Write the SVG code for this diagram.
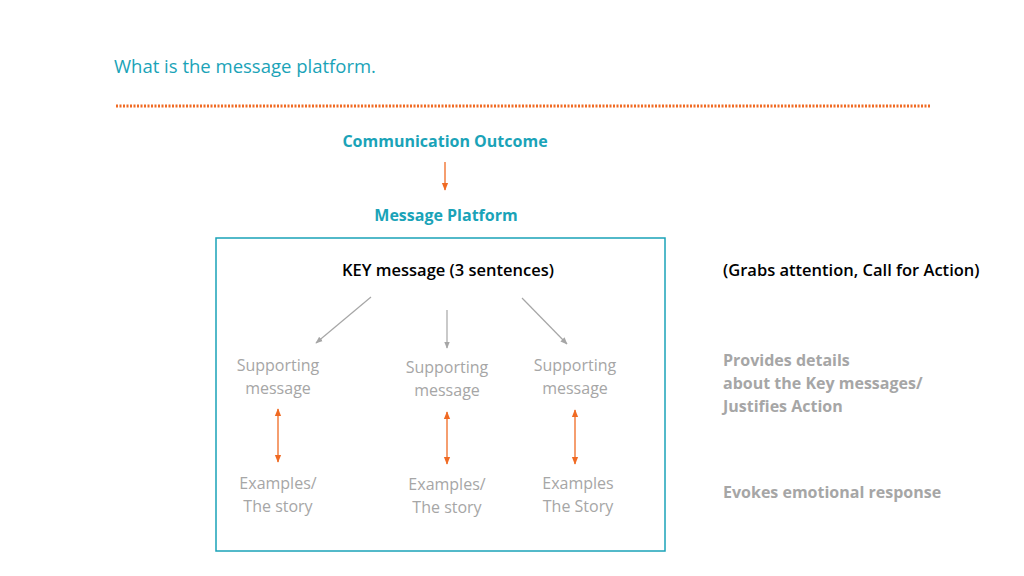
<svg xmlns="http://www.w3.org/2000/svg" width="1024" height="576" viewBox="0 0 1024 576">
<style>
text{font-family:"Open Sans","Liberation Sans",sans-serif}
.teal{fill:#1aa3b8;font-weight:bold;font-size:16px}
.gray{fill:#a6a6a6;font-size:16px}
.grayb{fill:#a6a6a6;font-size:16px;font-weight:bold}
.blk{fill:#000;font-size:16.5px;font-weight:600}
.or{stroke:#f06a23;stroke-width:1.3;fill:none}
.gr{stroke:#a6a6a6;stroke-width:1.2;fill:none}
</style>
<defs>
<marker id="ao" viewBox="0 0 10 10" refX="9" refY="5" markerWidth="6" markerHeight="6" orient="auto-start-reverse"><path d="M0,1 L10,5 L0,9 z" fill="#f06a23"/></marker>
<marker id="ag" viewBox="0 0 10 10" refX="9" refY="5" markerWidth="6" markerHeight="6" orient="auto"><path d="M0,1 L10,5 L0,9 z" fill="#a6a6a6"/></marker>
</defs>
<rect width="1024" height="576" fill="#fff"/>
<text x="114" y="73" fill="#1aa3b8" font-size="18.5">What is the message platform.</text>
<line x1="116" y1="106" x2="930" y2="106" stroke="#f06a23" stroke-width="3" stroke-dasharray="2 1.5"/>
<g id="outcome"><text class="teal" x="445" y="147" text-anchor="middle">Communication Outcome</text></g>
<g id="platform"><text class="teal" x="446" y="221" text-anchor="middle">Message Platform</text></g>
<g id="box"><rect x="216" y="238" width="449" height="313" fill="none" stroke="#1aa3b8" stroke-width="1.5"/></g>
<g id="key"><text class="blk" x="448" y="276" text-anchor="middle">KEY message (3 sentences)</text></g>
<g id="grabs"><text class="blk" x="723" y="276">(Grabs attention, Call for Action)</text></g>
<g id="sup1"><text class="gray" x="278" y="371" text-anchor="middle">Supporting</text><text class="gray" x="278" y="394" text-anchor="middle">message</text></g>
<g id="sup2"><text class="gray" x="447" y="373" text-anchor="middle">Supporting</text><text class="gray" x="447" y="396" text-anchor="middle">message</text></g>
<g id="sup3"><text class="gray" x="575" y="371" text-anchor="middle">Supporting</text><text class="gray" x="575" y="394" text-anchor="middle">message</text></g>
<g id="ex1"><text class="gray" x="278" y="489" text-anchor="middle">Examples/</text><text class="gray" x="278" y="512" text-anchor="middle">The story</text></g>
<g id="ex2"><text class="gray" x="447" y="490" text-anchor="middle">Examples/</text><text class="gray" x="447" y="513" text-anchor="middle">The story</text></g>
<g id="ex3"><text class="gray" x="578" y="489" text-anchor="middle">Examples</text><text class="gray" x="578" y="512" text-anchor="middle">The Story</text></g>
<g id="provides"><text class="grayb" x="723" y="366">Provides details</text><text class="grayb" x="723" y="389">about the Key messages/</text><text class="grayb" x="723" y="412">Justifies Action</text></g>
<g id="evokes"><text class="grayb" x="723" y="498">Evokes emotional response</text></g>
<g id="connectors">
<line class="or" x1="445" y1="162" x2="445" y2="190" marker-end="url(#ao)"/>
<line class="gr" x1="371" y1="297" x2="316" y2="343" marker-end="url(#ag)"/>
<line class="gr" x1="447" y1="310" x2="447" y2="348" marker-end="url(#ag)"/>
<line class="gr" x1="522" y1="298" x2="567" y2="344" marker-end="url(#ag)"/>
<line class="or" x1="278" y1="409" x2="278" y2="462" marker-start="url(#ao)" marker-end="url(#ao)"/>
<line class="or" x1="447" y1="412" x2="447" y2="464" marker-start="url(#ao)" marker-end="url(#ao)"/>
<line class="or" x1="575" y1="410" x2="575" y2="464" marker-start="url(#ao)" marker-end="url(#ao)"/>
</g>
</svg>
